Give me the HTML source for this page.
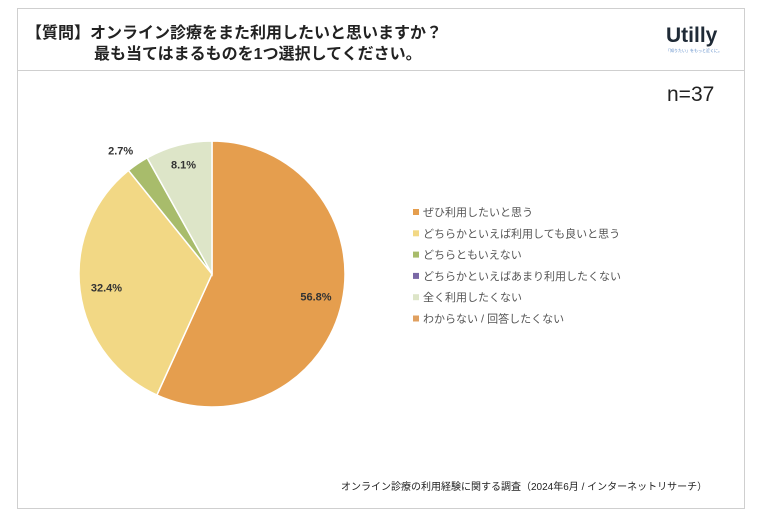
<!DOCTYPE html>
<html><head><meta charset="utf-8"><style>
body{margin:0;width:768px;height:524px;background:#fff;font-family:"Liberation Sans","Noto Sans CJK JP",sans-serif;position:relative;overflow:hidden}
.frame{position:absolute;left:17px;top:8px;width:726px;height:499px;border:1px solid #cfcfcf}
.hdr{position:absolute;left:17px;top:70px;width:727px;border-top:1px solid #cfcfcf}
.t{position:absolute;font-weight:bold;font-size:16px;color:#222;white-space:nowrap}
</style></head><body>
<div class="frame"></div>
<div class="hdr"></div>
<div class="t" style="left:26px;top:19px">【質問】オンライン診療をまた利用したいと思いますか？</div>
<div class="t" style="left:94px;top:40px">最も当てはまるものを1つ選択してください。</div>
<div style="position:absolute;left:666px;top:24px;font-weight:bold;font-size:21px;color:#1f2a36">Utilly<div style="font-size:4px;color:#5a8ac8;font-weight:normal">「知りたい」をもっと近くに。</div></div>
<div style="position:absolute;left:667px;top:83px;font-size:21px;color:#222">n=37</div>
<svg id="c" width="768" height="524" style="position:absolute;left:0;top:0"></svg>
<div style="position:absolute;left:341px;top:478px;font-size:10px;color:#222">オンライン診療の利用経験に関する調査（2024年6月 / インターネットリサーチ）</div>
<script>
const categories=["ぜひ利用したいと思う","どちらかといえば利用しても良いと思う","どちらともいえない","どちらかといえばあまり利用したくない","全く利用したくない","わからない / 回答したくない"];
const values=[56.8,32.4,2.7,0,8.1,0];
const colors=["#E59E4E","#F2D885","#A8BC6B","#7A68A6","#DDE5C8","#E0A060"];
const svg=document.getElementById('c');const ns="http://www.w3.org/2000/svg";
const cx=212,cy=274,r=133;
const total=values.reduce((a,b)=>a+b,0);
let a0=0;
values.forEach((v,i)=>{
  if(v<=0)return;
  const a1=a0+v/total*2*Math.PI;
  const p=t=>[cx+r*Math.sin(t),cy-r*Math.cos(t)];
  const [x0,y0]=p(a0),[x1,y1]=p(a1);
  const path=document.createElementNS(ns,'path');
  path.setAttribute('d',`M${cx},${cy}L${x0},${y0}A${r},${r} 0 ${a1-a0>Math.PI?1:0} 1 ${x1},${y1}Z`);
  path.setAttribute('fill',colors[i]);path.setAttribute('stroke','#fff');path.setAttribute('stroke-width','1.5');
  
  
  svg.appendChild(path);
  const m=(a0+a1)/2;
  let lr=v>20?r*0.8:(v>5?r*0.85:r+16);
  const tx=document.createElementNS(ns,'text');
  tx.setAttribute('x',cx+lr*Math.sin(m)+(v<5?-8:0));tx.setAttribute('y',cy-lr*Math.cos(m)+4);
  tx.setAttribute('text-anchor','middle');tx.setAttribute('font-size','11');tx.setAttribute('font-weight','bold');tx.setAttribute('fill','#333');
  tx.textContent=v.toFixed(1)+'%';
  
  
  svg.appendChild(tx);
  a0=a1;
});
categories.forEach((c,i)=>{
  const y=213+i*21.3;
  const g=document.createElementNS(ns,'g');
  
  
  const rc=document.createElementNS(ns,'rect');
  rc.setAttribute('x',413);rc.setAttribute('y',y-4);rc.setAttribute('width',6);rc.setAttribute('height',6);rc.setAttribute('fill',colors[i]);
  g.appendChild(rc);
  const t=document.createElementNS(ns,'text');
  t.setAttribute('x',423);t.setAttribute('y',y+3);t.setAttribute('font-size','11');t.setAttribute('fill','#555');
  t.textContent=c;g.appendChild(t);svg.appendChild(g);
});
</script>
</body></html>
